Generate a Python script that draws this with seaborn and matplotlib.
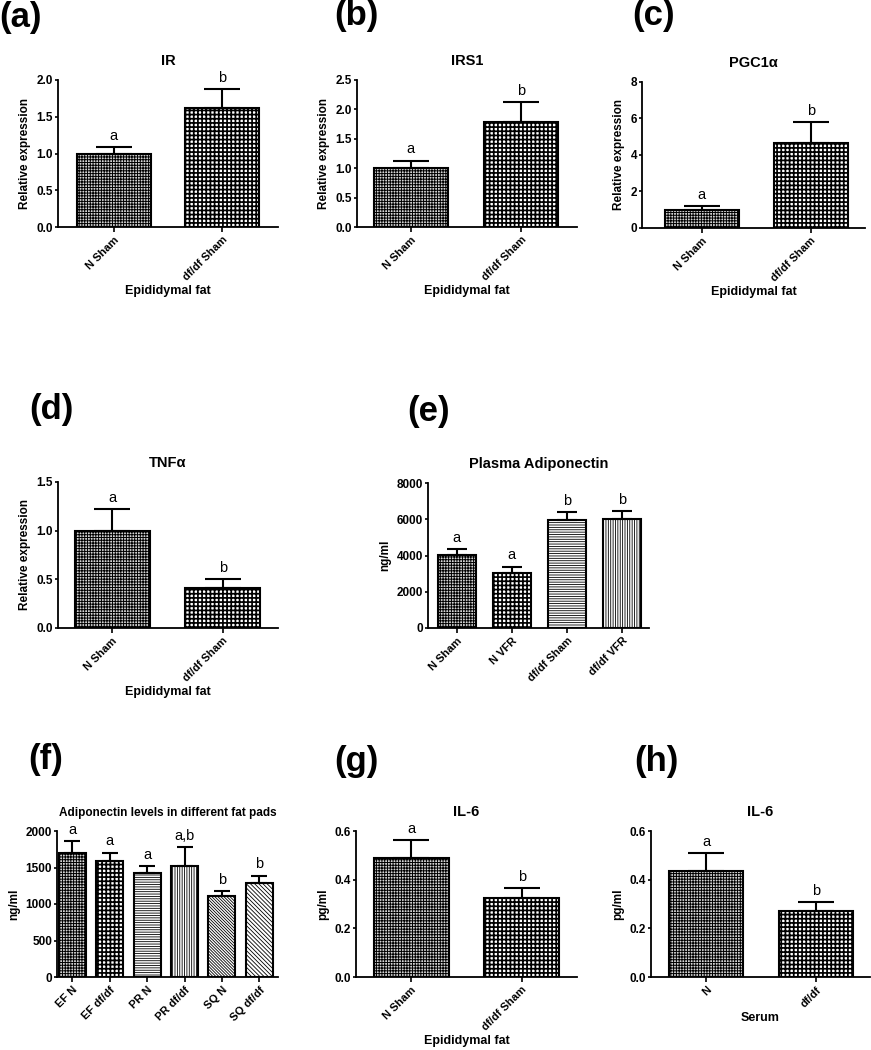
import numpy as np
import matplotlib
matplotlib.use("Agg")
import matplotlib.pyplot as plt
from matplotlib.ticker import FormatStrFormatter, MultipleLocator
import seaborn as sns

# --- data (mean and top of the SEM bar) ---
ir_groups = ["N Sham", "df/df Sham"]
ir_mean = [1.00, 1.62]
ir_upper = [1.09, 1.88]
ir_letters = ["a", "b"]

irs1_groups = ["N Sham", "df/df Sham"]
irs1_mean = [1.00, 1.78]
irs1_upper = [1.13, 2.12]
irs1_letters = ["a", "b"]

pgc_groups = ["N Sham", "df/df Sham"]
pgc_mean = [1.00, 4.65]
pgc_upper = [1.18, 5.82]
pgc_letters = ["a", "b"]

tnf_groups = ["N Sham", "df/df Sham"]
tnf_mean = [1.00, 0.41]
tnf_upper = [1.22, 0.50]
tnf_letters = ["a", "b"]

adipo_groups = ["N Sham", "N VFR", "df/df Sham", "df/df VFR"]
adipo_mean = [4050, 3050, 5950, 6030]
adipo_upper = [4340, 3390, 6400, 6470]
adipo_letters = ["a", "a", "b", "b"]

pads_groups = ["EF N", "EF df/df", "PR N", "PR df/df", "SQ N", "SQ df/df"]
pads_mean = [1700, 1585, 1430, 1515, 1105, 1285]
pads_upper = [1860, 1705, 1520, 1775, 1175, 1390]
pads_letters = ["a", "a", "a", "a,b", "b", "b"]

il6_fat_groups = ["N Sham", "df/df Sham"]
il6_fat_mean = [0.49, 0.325]
il6_fat_upper = [0.563, 0.364]
il6_fat_letters = ["a", "b"]

il6_serum_groups = ["N", "df/df"]
il6_serum_mean = [0.434, 0.272]
il6_serum_upper = [0.508, 0.307]
il6_serum_letters = ["a", "b"]

# --- look ---
sns.set_style("ticks")
plt.rcParams["font.family"] = ["Liberation Sans", "DejaVu Sans"]
plt.rcParams["font.weight"] = "bold"
plt.rcParams["hatch.linewidth"] = 0.7
plt.rcParams["axes.linewidth"] = 1.3
for key in ("text.color", "axes.labelcolor", "xtick.color", "ytick.color", "axes.edgecolor"):
    plt.rcParams[key] = "black"

# face colour, hatch, hatch line width
FILLS = {
    "fine": ("#d4d4d4", "++++++", 0.7),
    "coarse": ("white", "++++", 1.25),
    "horiz": ("white", "-------", 0.6),
    "vert": ("white", "|||||||", 0.6),
    "diag": ("white", "\\" * 11, 0.6),
    "diag2": ("white", "\\" * 8, 0.6),
}

W, H = 871, 1050
fig = plt.figure(figsize=(W / 100, H / 100), dpi=100)


def add_box(x0, y0, x1, y1):
    return fig.add_axes([x0 / W, 1 - y1 / H, (x1 - x0) / W, (y1 - y0) / H])


def draw_panel(ax, groups, mean, upper, letters, fills, title, ylabel, xlabel,
               ymax, ystep, fmt, xlim, width=0.68, capsize=13, title_size=10.5):
    sns.barplot(x=groups, y=mean, ax=ax, width=width, color="white",
                edgecolor="black", linewidth=1.5, errorbar=None)
    for patch, key in zip(ax.patches, fills):
        fc, hatch, hlw = FILLS[key]
        patch.set_facecolor(fc)
        patch.set_hatch(hatch)
        if hasattr(patch, "set_hatch_linewidth"):
            patch.set_hatch_linewidth(hlw)
    pos = np.arange(len(groups))
    err = np.array(upper) - np.array(mean)
    ax.errorbar(pos, mean, yerr=[np.zeros(len(groups)), err], fmt="none",
                ecolor="black", elinewidth=1.5, capsize=capsize, capthick=1.5,
                zorder=1)
    for i, (top, let) in enumerate(zip(upper, letters)):
        ax.annotate(let, (i, top), xytext=(0, 3), textcoords="offset points",
                    ha="center", va="bottom", fontsize=10.5, fontweight="normal")
    ax.set_ylim(0, ymax)
    ax.set_xlim(*xlim)
    ax.yaxis.set_major_locator(MultipleLocator(ystep))
    ax.yaxis.set_major_formatter(FormatStrFormatter(fmt))
    ax.set_title(title, fontsize=title_size, fontweight="bold", pad=11)
    ax.set_ylabel(ylabel, fontsize=8.5, fontweight="bold", labelpad=4)
    ax.set_xlabel(xlabel, fontsize=9, fontweight="bold", labelpad=2)
    ax.tick_params(axis="y", length=2.5, width=1.2, labelsize=8.5, pad=1)
    ax.tick_params(axis="x", length=3.5, width=1.2, labelsize=8, pad=2)
    for lab in ax.get_xticklabels():
        lab.set_rotation(45)
        lab.set_ha("right")
        lab.set_rotation_mode("anchor")
        lab.set_fontweight("bold")
    for lab in ax.get_yticklabels():
        lab.set_fontweight("bold")
    sns.despine(ax=ax)


two = ["fine", "coarse"]
fat = "Epididymal fat"
rel = "Relative expression"

ax = add_box(58, 80, 278, 227)
draw_panel(ax, ir_groups, ir_mean, ir_upper, ir_letters, two, "IR", rel, fat,
           2.0, 0.5, "%.1f", (-0.51, 1.51))
ax = add_box(357, 80, 577, 227)
draw_panel(ax, irs1_groups, irs1_mean, irs1_upper, irs1_letters, two, "IRS1", rel, fat,
           2.5, 0.5, "%.1f", (-0.49, 1.51))
ax = add_box(642, 82, 865, 228)
draw_panel(ax, pgc_groups, pgc_mean, pgc_upper, pgc_letters, two, "PGC1α", rel, fat,
           8, 2, "%d", (-0.55, 1.5))
ax = add_box(58, 482, 278, 628)
draw_panel(ax, tnf_groups, tnf_mean, tnf_upper, tnf_letters, two, "TNFα", rel, fat,
           1.5, 0.5, "%.1f", (-0.49, 1.5))
ax = add_box(428, 483, 649, 628)
draw_panel(ax, adipo_groups, adipo_mean, adipo_upper, adipo_letters,
           ["fine", "coarse", "horiz", "vert"], "Plasma Adiponectin", "ng/ml", "",
           8000, 2000, "%d", (-0.52, 3.49), width=0.69, capsize=7)
ax = add_box(57, 831, 278, 977)
draw_panel(ax, pads_groups, pads_mean, pads_upper, pads_letters,
           ["fine", "coarse", "horiz", "vert", "diag", "diag2"],
           "Adiponectin levels in different fat pads", "ng/ml", "",
           2000, 500, "%d", (-0.41, 5.5), width=0.72, capsize=5.5, title_size=8.5)
ax = add_box(356, 831, 577, 977)
draw_panel(ax, il6_fat_groups, il6_fat_mean, il6_fat_upper, il6_fat_letters, two,
           "IL-6", "pg/ml", fat, 0.6, 0.2, "%.1f", (-0.5, 1.5))
ax = add_box(651, 831, 870, 977)
draw_panel(ax, il6_serum_groups, il6_serum_mean, il6_serum_upper, il6_serum_letters, two,
           "IL-6", "pg/ml", "Serum", 0.6, 0.2, "%.1f", (-0.5, 1.49))

# panel letters
for lab, px, py in [("(a)", 20, 17), ("(b)", 356, 16), ("(c)", 654, 16),
                    ("(d)", 51, 409), ("(e)", 429, 411),
                    ("(f)", 46, 760), ("(g)", 356, 761), ("(h)", 656, 761)]:
    fig.text(px / W, 1 - py / H, lab, fontsize=25, fontweight="bold",
             ha="center", va="center")

fig.savefig("out.png", dpi=100)
